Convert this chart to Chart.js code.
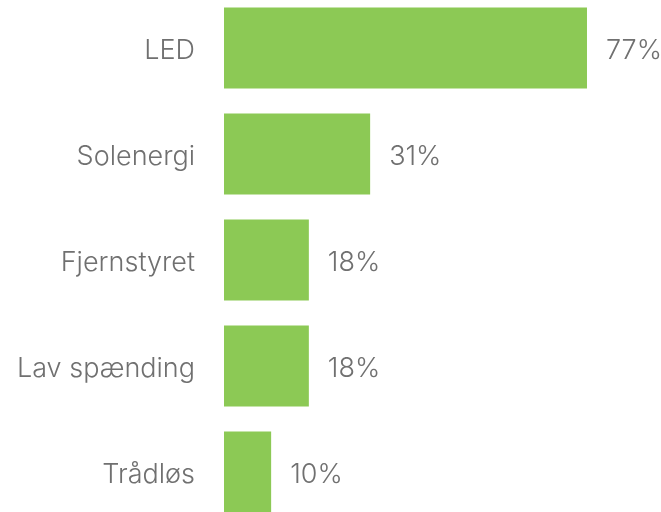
<!DOCTYPE html>
<html>
<head>
<meta charset="utf-8">
<script src="https://cdn.jsdelivr.net/npm/chart.js@4/dist/chart.umd.min.js"></script>
<style>
  html, body { margin: 0; padding: 0; background: #fff; overflow: hidden; }
  #chart { position: absolute; left: 0; top: -5px; }
</style>
</head>
<body>
<canvas id="chart" width="661" height="530"></canvas>
<script>
// data
const categories = ['LED', 'Solenergi', 'Fjernstyret', 'Lav spænding', 'Trådløs'];
const shares = [77, 31, 18, 18, 10];

const FONT = { family: 'Inter', weight: '300', size: 27 };
const TEXT_COLOR = '#707070';

// value labels to the right of each bar
const valueLabels = {
    id: 'valueLabels',
    afterDatasetsDraw(chart) {
        const ctx = chart.ctx;
        const meta = chart.getDatasetMeta(0);
        ctx.save();
        ctx.font = `${FONT.weight} ${FONT.size}px ${FONT.family}`;
        ctx.fillStyle = TEXT_COLOR;
        ctx.textAlign = 'left';
        ctx.textBaseline = 'middle';
        meta.data.forEach((bar, i) => {
            ctx.fillText(shares[i] + '%', bar.x + 19, bar.y + 3);
        });
        ctx.restore();
    }
};

new Chart(document.getElementById('chart'), {
    type: 'bar',
    data: {
        labels: categories,
        datasets: [{
            data: shares,
            backgroundColor: '#8cc955',
            barPercentage: 0.764,
            categoryPercentage: 1
        }]
    },
    options: {
        indexAxis: 'y',
        responsive: false,
        animation: false,
        layout: { padding: 0 },
        plugins: { legend: { display: false }, tooltip: { enabled: false } },
        scales: {
            x: { display: false, min: 0, max: 92.7 },
            y: {
                afterFit(scale) {
                    scale.width = 224;
                    scale.paddingTop = 0;
                    scale.paddingBottom = 0;
                },
                grid: { display: false, drawTicks: false },
                border: { display: false },
                ticks: { padding: 29, labelOffset: 3, color: TEXT_COLOR, font: FONT }
            }
        }
    },
    plugins: [valueLabels]
});
</script>
</body>
</html>
